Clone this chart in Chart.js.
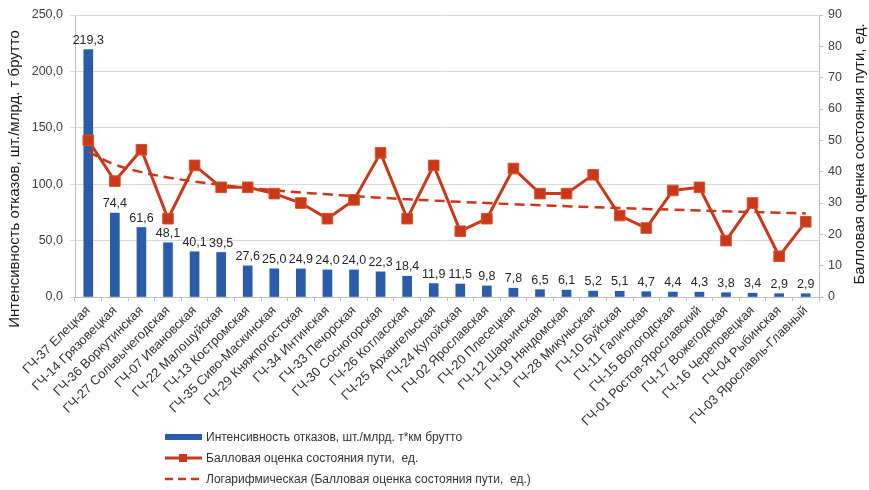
<!DOCTYPE html>
<html lang="ru">
<head>
<meta charset="utf-8">
<title>Интенсивность отказов и балловая оценка состояния пути</title>
<script src="https://cdn.jsdelivr.net/npm/chart.js@4/dist/chart.umd.min.js"></script>
<style>
  html, body { margin: 0; padding: 0; background: #fff; }
  #wrap { position: relative; width: 869px; height: 490px; font-family: "Liberation Sans", Arial, sans-serif; }
  #chart { position: absolute; left: 0; top: 0; }
  #legend { position: absolute; left: 165px; top: 426px; font-size: 12px; color: #333; }
  #legend .row { height: 21px; display: flex; align-items: center; white-space: nowrap; }
  #legend svg { margin-right: 3px; flex: none; }
</style>
</head>
<body>
<div id="wrap">
  <canvas id="chart" width="869" height="490"></canvas>
  <div id="legend">
    <div class="row">
      <svg width="38" height="10"><rect x="0" y="2" width="37" height="6" fill="#2A5CAA"/></svg>
      <span>Интенсивность отказов, шт./млрд. т*км брутто</span>
    </div>
    <div class="row">
      <svg width="38" height="12"><line x1="0" y1="6" x2="37" y2="6" stroke="#C8381A" stroke-width="3"/><rect x="14" y="2" width="8" height="8" fill="#C8381A"/></svg>
      <span>Балловая оценка состояния пути,&nbsp; ед.</span>
    </div>
    <div class="row">
      <svg width="38" height="10"><line x1="0" y1="5" x2="37" y2="5" stroke="#C8381A" stroke-width="2.5" stroke-dasharray="8,5"/></svg>
      <span>Логарифмическая (Балловая оценка состояния пути,&nbsp; ед.)</span>
    </div>
  </div>
</div>
<script>
// Дистанции пути
const distances = [
  "ГЧ-37 Елецкая", "ГЧ-14 Грязовецкая", "ГЧ-36 Воркутинская", "ГЧ-27 Сольвычегодская",
  "ГЧ-07 Ивановская", "ГЧ-22 Малошуйская", "ГЧ-13 Костромская", "ГЧ-35 Сиво-Маскинская",
  "ГЧ-29 Княжпогостская", "ГЧ-34 Интинская", "ГЧ-33 Печорская", "ГЧ-30 Сосногорская",
  "ГЧ-26 Котласская", "ГЧ-25 Архангельская", "ГЧ-24 Кулойская", "ГЧ-02 Ярославская",
  "ГЧ-20 Плесецкая", "ГЧ-12 Шарьинская", "ГЧ-19 Няндомская", "ГЧ-28 Микуньская",
  "ГЧ-10 Буйская", "ГЧ-11 Галичская", "ГЧ-15 Вологодская", "ГЧ-01 Ростов-Ярославский",
  "ГЧ-17 Вожегодская", "ГЧ-16 Череповецкая", "ГЧ-04 Рыбинская", "ГЧ-03 Ярославль-Главный"
];

// Интенсивность отказов, шт./млрд. т*км брутто
const failureRate = [
  219.3, 74.4, 61.6, 48.1, 40.1, 39.5, 27.6, 25.0, 24.9, 24.0, 24.0, 22.3, 18.4, 11.9,
  11.5, 9.8, 7.8, 6.5, 6.1, 5.2, 5.1, 4.7, 4.4, 4.3, 3.8, 3.4, 2.9, 2.9
];

// Балловая оценка состояния пути, ед.
const trackScore = [
  50, 37, 47, 25, 42, 35, 35, 33, 30, 25, 31, 46, 25, 42,
  21, 25, 41, 33, 33, 39, 26, 22, 34, 35, 18, 30, 13, 24
];

// Деления осей
const leftTicks = [0, 50, 100, 150, 200, 250];
const rightTicks = [0, 10, 20, 30, 40, 50, 60, 70, 80, 90];

// Логарифмический тренд балловой оценки: y = a + b·ln(x), метод наименьших квадратов
function logTrend(values) {
  const n = values.length;
  const xs = values.map((_, i) => Math.log(i + 1));
  const mx = xs.reduce((s, v) => s + v, 0) / n;
  const my = values.reduce((s, v) => s + v, 0) / n;
  let sxy = 0, sxx = 0;
  for (let i = 0; i < n; i++) {
    sxy += (xs[i] - mx) * (values[i] - my);
    sxx += (xs[i] - mx) * (xs[i] - mx);
  }
  const b = sxy / sxx;
  const a = my - b * mx;
  return xs.map(x => a + b * x);
}
const scoreTrend = logTrend(trackScore);

const BLUE = "#2A5CAA";
const RED = "#C8381A";
const FONT = "'Liberation Sans', Arial, sans-serif";

const fmt1 = v => v.toFixed(1).replace(".", ",");

// Подписи значений над столбцами
const barLabels = {
  id: "barLabels",
  afterDatasetsDraw(chart) {
    const meta = chart.getDatasetMeta(0);
    const ctx = chart.ctx;
    ctx.save();
    ctx.font = "12.5px " + FONT;
    ctx.fillStyle = "#262626";
    ctx.textAlign = "center";
    ctx.textBaseline = "bottom";
    meta.data.forEach((el, i) => {
      ctx.fillText(fmt1(failureRate[i]), el.x, el.y - 3);
    });
    ctx.restore();
  }
};

// Названия осей
const axisTitles = {
  id: "axisTitles",
  afterDraw(chart) {
    const ctx = chart.ctx;
    ctx.save();
    ctx.font = "15px " + FONT;
    ctx.fillStyle = "#1a1a1a";
    ctx.textAlign = "center";
    ctx.textBaseline = "middle";
    ctx.translate(15, 179);
    ctx.rotate(-Math.PI / 2);
    ctx.fillText("Интенсивность отказов, шт./млрд. т брутто", 0, 0);
    ctx.restore();
    ctx.save();
    ctx.font = "15px " + FONT;
    ctx.fillStyle = "#1a1a1a";
    ctx.textAlign = "center";
    ctx.textBaseline = "middle";
    ctx.translate(860, 154);
    ctx.rotate(-Math.PI / 2);
    ctx.fillText("Балловая оценка состояния пути, ед.", 0, 0);
    ctx.restore();
  }
};

new Chart(document.getElementById("chart"), {
  data: {
    labels: distances,
    datasets: [
      {
        type: "bar",
        label: "Интенсивность отказов, шт./млрд. т*км брутто",
        data: failureRate,
        backgroundColor: BLUE,
        barThickness: 9,
        yAxisID: "y",
        order: 3
      },
      {
        type: "line",
        label: "Логарифмическая (Балловая оценка состояния пути,  ед.)",
        data: scoreTrend,
        borderColor: RED,
        borderWidth: 2.5,
        borderDash: [10, 6],
        pointRadius: 0,
        tension: 0.4,
        fill: false,
        yAxisID: "y2",
        order: 2
      },
      {
        type: "line",
        label: "Балловая оценка состояния пути,  ед.",
        data: trackScore,
        borderColor: RED,
        borderWidth: 3,
        pointStyle: "rect",
        pointRadius: 7.5,
        pointBackgroundColor: RED,
        pointBorderColor: "#D9532C",
        pointBorderWidth: 1,
        tension: 0,
        fill: false,
        yAxisID: "y2",
        order: 1
      }
    ]
  },
  options: {
    responsive: false,
    animation: false,
    devicePixelRatio: 1,
    layout: { padding: { top: 15, left: 0, right: 0, bottom: 0 } },
    plugins: {
      legend: { display: false },
      tooltip: { enabled: false }
    },
    scales: {
      x: {
        offset: true,
        afterFit(scale) { scale.height = 193; },
        grid: { display: true, drawOnChartArea: false, drawTicks: true, tickLength: 4, color: "#bfbfbf", offset: true },
        border: { display: true, color: "#bfbfbf" },
        ticks: {
          autoSkip: false,
          maxRotation: 45,
          minRotation: 45,
          padding: 2,
          color: "#333",
          font: { family: FONT, size: 13 }
        }
      },
      y: {
        position: "left",
        min: 0,
        max: 250,
        afterFit(scale) { scale.width = 75; },
        afterBuildTicks(scale) { scale.ticks = leftTicks.map(v => ({ value: v })); },
        grid: { color: "#d9d9d9", lineWidth: 1, tickLength: 5 },
        border: { display: true, color: "#bfbfbf" },
        ticks: {
          padding: 7,
          color: "#404040",
          font: { family: FONT, size: 12.5 },
          callback: v => fmt1(v)
        }
      },
      y2: {
        position: "right",
        min: 0,
        max: 90,
        afterFit(scale) { scale.width = 50; },
        afterBuildTicks(scale) { scale.ticks = rightTicks.map(v => ({ value: v })); },
        grid: { drawOnChartArea: false, color: "#bfbfbf", tickLength: 4 },
        border: { display: true, color: "#bfbfbf" },
        ticks: {
          padding: 5,
          color: "#404040",
          font: { family: FONT, size: 12.5 },
          callback: v => String(v)
        }
      }
    }
  },
  plugins: [barLabels, axisTitles]
});
</script>
</body>
</html>
